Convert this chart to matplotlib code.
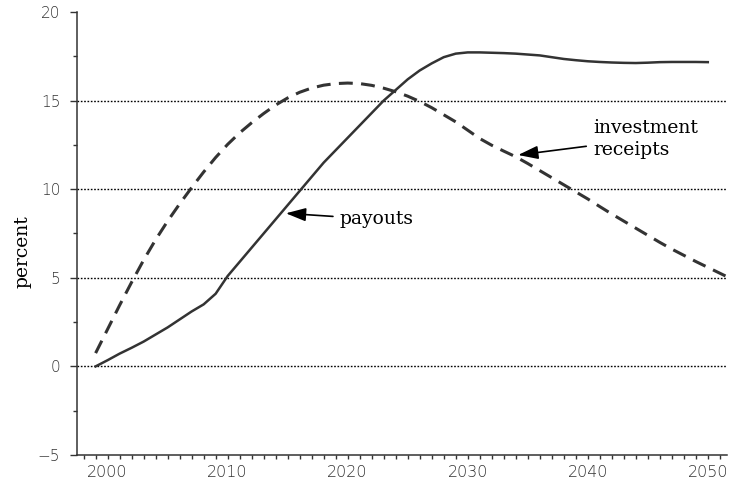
import matplotlib
matplotlib.use("Agg")
import matplotlib.pyplot as plt
from matplotlib.ticker import MultipleLocator, FixedLocator

plt.rcParams['lines.scale_dashes'] = False

# ---- data ----
years_pay = list(range(1999, 2051))
payouts = [0.0, 0.35, 0.72, 1.05, 1.4, 1.8, 2.2, 2.65, 3.1, 3.5,
           4.1, 5.1, 5.9, 6.7, 7.5, 8.3, 9.1, 9.9, 10.7, 11.5,
           12.2, 12.9, 13.6, 14.3, 15.0, 15.6, 16.2, 16.7, 17.1, 17.45,
           17.65, 17.72, 17.72, 17.7, 17.68, 17.65, 17.6, 17.55, 17.45, 17.35,
           17.28, 17.22, 17.18, 17.15, 17.13, 17.12, 17.14, 17.17, 17.18, 17.18,
           17.18, 17.17]
years_inv = list(range(1999, 2053))
investment = [0.75, 2.1, 3.45, 4.75, 6.0, 7.15, 8.2, 9.17, 10.09, 10.97,
              11.79, 12.53, 13.18, 13.75, 14.27, 14.75, 15.15, 15.47, 15.71, 15.87,
              15.96, 15.99, 15.96, 15.86, 15.7, 15.5, 15.25, 14.95, 14.6, 14.2,
              13.8, 13.33, 12.86, 12.48, 12.15, 11.83, 11.45, 11.05, 10.65, 10.25,
              9.85, 9.45, 9.02, 8.6, 8.2, 7.8, 7.4, 7.0, 6.62, 6.27,
              5.92, 5.59, 5.26, 4.93]
payouts = payouts[:len(years_pay)]

ytick_vals = [-5, 0, 5, 10, 15, 20]
grid_vals = [0, 5, 10, 15]
xtick_vals = [2000, 2010, 2020, 2030, 2040, 2050]
xtick_labels = ["2000", "2010", "2020", "2030", "2040", "2050"]

line_color = "#333333"

fig = plt.figure(figsize=(7.30, 4.79), dpi=100)
ax = fig.add_axes([77/730, 1 - 455/479, (727 - 77)/730, (455 - 12)/479])

for g in grid_vals:
    ax.axhline(g, color="black", lw=1.0, linestyle=(0, (1.2, 1.2)), zorder=1)

ax.plot(years_pay, payouts, color=line_color, lw=1.8, zorder=3,
        solid_joinstyle="round")
ax.plot(years_inv, investment, color=line_color, lw=2.2, zorder=3,
        dashes=(10, 6))

ax.set_xlim(1997.45, 2051.6)
ax.set_ylim(-5, 20)

ax.spines['top'].set_visible(False)
ax.spines['right'].set_visible(False)
for s in ('left', 'bottom'):
    ax.spines[s].set_color("#333333")
    ax.spines[s].set_linewidth(1.1)

ax.yaxis.set_major_locator(FixedLocator(ytick_vals))
ax.yaxis.set_minor_locator(MultipleLocator(2.5))
ax.set_yticklabels([("\u2212" + str(abs(v))) if v < 0 else str(v) for v in ytick_vals])
ax.xaxis.set_major_locator(FixedLocator(xtick_vals))
ax.set_xticklabels(xtick_labels)
ax.xaxis.set_minor_locator(FixedLocator(list(range(1998, 2052))))

ax.tick_params(axis='y', which='major', length=5, width=1.0, pad=7,
               labelsize=11, colors="#333333", direction='out')
ax.tick_params(axis='y', which='minor', length=3, width=1.0, direction='out',
               colors="#333333")
ax.tick_params(axis='x', which='both', length=3, width=1.0, pad=4,
               labelsize=11.5, colors="#333333", direction='out')
for lab in ax.get_xticklabels() + ax.get_yticklabels():
    lab.set_fontfamily("DejaVu Sans")
    lab.set_fontweight("light")

fig.text(22/730, 1 - 252/479, "percent", rotation=90, ha='center', va='center',
         fontsize=13.5, family="DejaVu Serif", color="black")

ax.annotate("payouts", xy=(2014.85, 8.64), xytext=(2019.35, 8.3),
            ha='left', va='center', fontsize=13.5, family="DejaVu Serif",
            arrowprops=dict(arrowstyle="-|>,head_length=0.9,head_width=0.3",
                            color="black", lw=1.2, shrinkA=3, shrinkB=0))
ax.annotate("investment\nreceipts", xy=(2034.2, 11.93), xytext=(2040.45, 12.85),
            ha='left', va='center', fontsize=13.5, family="DejaVu Serif",
            linespacing=1.3,
            arrowprops=dict(arrowstyle="-|>,head_length=0.9,head_width=0.3",
                            color="black", lw=1.2, shrinkA=3, shrinkB=0))

fig.savefig("out.png", dpi=100)
